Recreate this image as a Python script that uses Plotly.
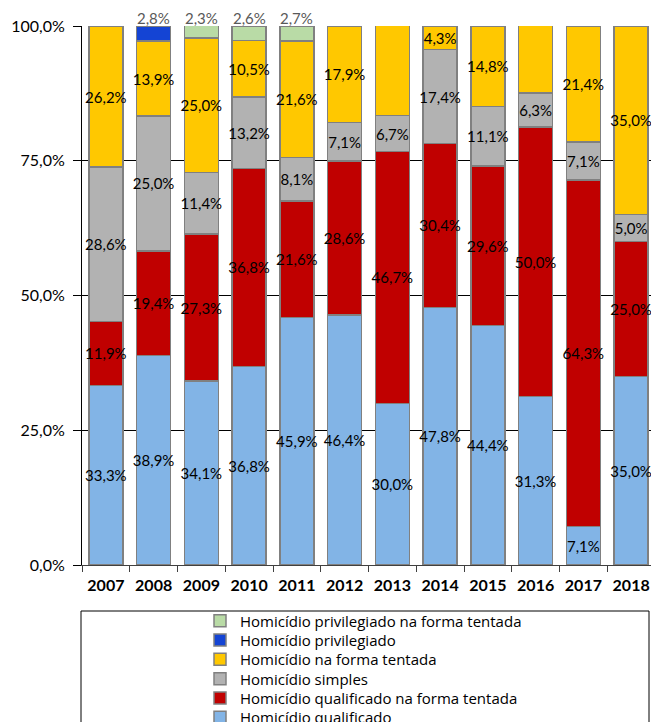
import plotly.graph_objects as go

years = ["2007", "2008", "2009", "2010", "2011", "2012", "2013", "2014", "2015", "2016", "2017", "2018"]

qualificado = [33.3, 38.9, 34.1, 36.8, 45.9, 46.4, 30.0, 47.8, 44.4, 31.3, 7.1, 35.0]
qualificado_tentada = [11.9, 19.4, 27.3, 36.8, 21.6, 28.6, 46.7, 30.4, 29.6, 50.0, 64.3, 25.0]
simples = [28.6, 25.0, 11.4, 13.2, 8.1, 7.1, 6.7, 17.4, 11.1, 6.3, 7.1, 5.0]
tentada = [26.2, 13.9, 25.0, 10.5, 21.6, 17.9, 16.7, 4.3, 14.8, 12.5, 21.4, 35.0]
privilegiado = [None, 2.8, None, None, None, None, None, None, None, None, None, None]
privilegiado_tentada = [None, None, 2.3, 2.6, 2.7, None, None, None, None, None, None, None]

# (name, values, colour, label inside, legend id, legend row from the top)
series = [
    ("Homicídio qualificado", qualificado, "#82B4E6", True, "legend6", 5),
    ("Homicídio qualificado na forma tentada", qualificado_tentada, "#C00000", True, "legend5", 4),
    ("Homicídio simples", simples, "#B2B2B2", True, "legend4", 3),
    ("Homicídio na forma tentada", tentada, "#FFC800", True, "legend3", 2),
    ("Homicídio privilegiado", privilegiado, "#1444D4", False, "legend2", 1),
    ("Homicídio privilegiado na forma tentada", privilegiado_tentada, "#B9DBA6", False, "legend", 0),
]

FONT = "Lato"
LABEL_SIZE = 15
W, H = 647, 714
T, B, L = 18, 157, 74
PLOT_H = H - T - B
PLOT_W = W - L

fig = go.Figure()
for name, vals, color, inside, leg, row in series:
    fig.add_trace(go.Bar(
        name=name, x=years, y=vals, legend=leg,
        marker=dict(color=color, line=dict(color="#808080", width=1.5)),
        texttemplate="%{y:.1f}%" if inside else "",
        textposition="inside",
        insidetextanchor="middle",
        textangle=0,
        constraintext="none",
        cliponaxis=False,
        textfont=dict(family=FONT, size=LABEL_SIZE, color="#000000"),
    ))

# labels of the small top segments, shown just above the 100% line
annotations = []
for vals in (privilegiado, privilegiado_tentada):
    for i, v in enumerate(vals):
        if v is not None:
            annotations.append(dict(
                x=i, y=100, xref="x", yref="y", yanchor="bottom",
                text=f"{v:.1f}%".replace(".", ","), showarrow=False,
                font=dict(family=FONT, size=LABEL_SIZE, color="#595959"),
                yshift=-3,
            ))

legend_layouts = {}
first_center = 613   # px from figure top
row_step = 19.3
for name, vals, color, inside, leg, row in series:
    c = first_center + row * row_step
    legend_layouts[leg] = dict(
        x=(192 - L) / PLOT_W, y=(H - B - c) / PLOT_H, xanchor="left", yanchor="middle",
        font=dict(family="Open Sans", size=15, color="#000000"),
        bgcolor="rgba(0,0,0,0)", borderwidth=0,
        itemwidth=30,
    )

fig.update_layout(
    width=W, height=H,
    margin=dict(l=L, r=0, t=T, b=B, autoexpand=False),
    barmode="stack",
    bargap=0.29,
    separators=",.",
    plot_bgcolor="white",
    paper_bgcolor="white",
    font=dict(family=FONT, size=15, color="#000000"),
    showlegend=True,
    xaxis=dict(
        type="category",
        range=[-0.5, len(years) - 0.5],
        showline=True, linecolor="#404040", linewidth=1,
        ticks="outside", tickson="boundaries", ticklen=6, tickcolor="#404040",
        tickfont=dict(family=FONT, size=16, color="#000000", weight="bold"),
        ticklabelstandoff=6,
        showgrid=False,
    ),
    yaxis=dict(
        range=[0, 100], dtick=25, tickformat=".1f", ticksuffix="%",
        showline=True, linecolor="#000000", linewidth=1,
        ticks="outside", ticklen=8, tickcolor="#000000",
        showgrid=True, gridcolor="#000000", gridwidth=1,
        tickfont=dict(family=FONT, size=16, color="#000000"),
        ticklabelstandoff=5,
        zeroline=False,
    ),
    annotations=annotations,
    shapes=[dict(type="rect", xref="paper", yref="paper",
                 x0=(73 - L) / PLOT_W, x1=(641 - L) / PLOT_W,
                 y0=(H - B - 603) / PLOT_H, y1=-0.4,
                 line=dict(color="#000000", width=1), fillcolor="rgba(0,0,0,0)")],
    **legend_layouts,
)

fig.write_html("out.html")
